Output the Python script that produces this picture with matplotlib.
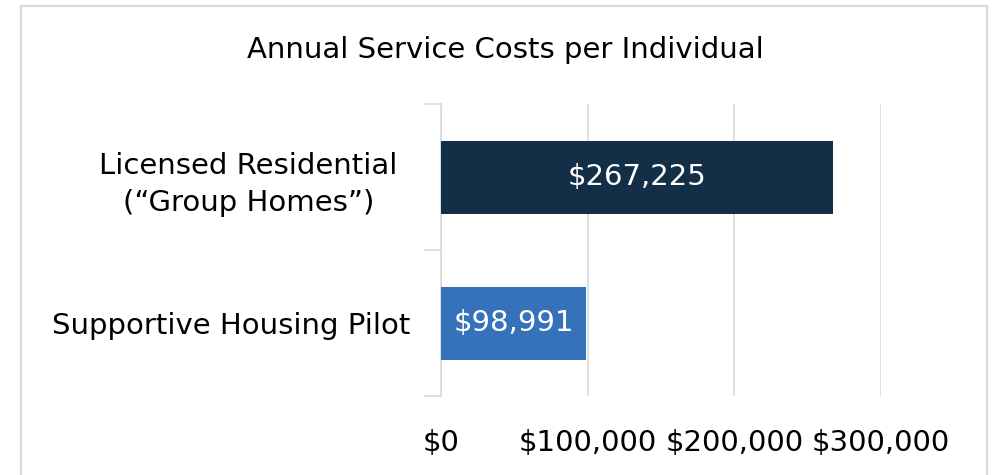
import matplotlib
matplotlib.use("Agg")
import matplotlib.pyplot as plt
import matplotlib.transforms as mtransforms
from matplotlib.patches import Rectangle
from matplotlib.ticker import FuncFormatter, FixedLocator

categories = ["Licensed Residential\n(\u201cGroup Homes\u201d)", "Supportive Housing Pilot"]
costs = [267225, 98991]
colors = ["#132e47", "#3572b9"]
xticks = [0, 100000, 200000, 300000]

plt.rcParams['font.family'] = ['DejaVu Sans']

fig = plt.figure(figsize=(9.94, 4.75), dpi=100)
ax = fig.add_axes([441/994, 1-396/475, 440/994, 292/475])

ypos = [0, 1]
bars = ax.barh(ypos, costs, height=0.5, color=colors, zorder=3)
for b, v in zip(bars, costs):
    ax.text(v/2, b.get_y() + b.get_height()/2, "${:,.0f}".format(v),
            ha='center', va='center', color='white', fontsize=21, zorder=4)

ax.set_ylim(1.5, -0.5)
ax.set_xlim(0, 300000)

# category boundaries as major ticks, labels on minor
ax.yaxis.set_major_locator(FixedLocator([-0.5, 0.5, 1.5]))
ax.yaxis.set_major_formatter(FuncFormatter(lambda v, p: ""))
ax.yaxis.set_minor_locator(FixedLocator(ypos))
ax.set_yticklabels(categories, minor=True, fontsize=21, linespacing=1.4,
                   multialignment='center')
ax.tick_params(axis='y', which='major', length=12, color='#d9d9d9', width=1.2)
ax.tick_params(axis='y', which='minor', length=0, pad=22)
# two-line label sits a bit further left in the original
lbl = ax.get_yticklabels(minor=True)[0]
lbl.set_transform(lbl.get_transform() +
                  mtransforms.ScaledTranslation(-13/100, 0, fig.dpi_scale_trans))

ax.set_xticks(xticks)
ax.xaxis.set_major_formatter(FuncFormatter(lambda v, p: "${:,.0f}".format(v)))
ax.tick_params(axis='x', length=0, labelsize=21, pad=24)
ax.grid(axis='x', color='#d9d9d9', linewidth=1.2, zorder=0)

for s in ['top', 'right', 'bottom']:
    ax.spines[s].set_visible(False)
ax.spines['left'].set_color('#d9d9d9')
ax.spines['left'].set_linewidth(1.2)

fig.text(505/994, 1-50/475, "Annual Service Costs per Individual",
         ha='center', va='center', fontsize=21)

fig.patches.append(Rectangle((21/994, -0.1), 966/994, 1.1 - 6/475,
                             transform=fig.transFigure, fill=False,
                             edgecolor='#d9d9d9', linewidth=1.5))

fig.savefig("out.png", dpi=100)
